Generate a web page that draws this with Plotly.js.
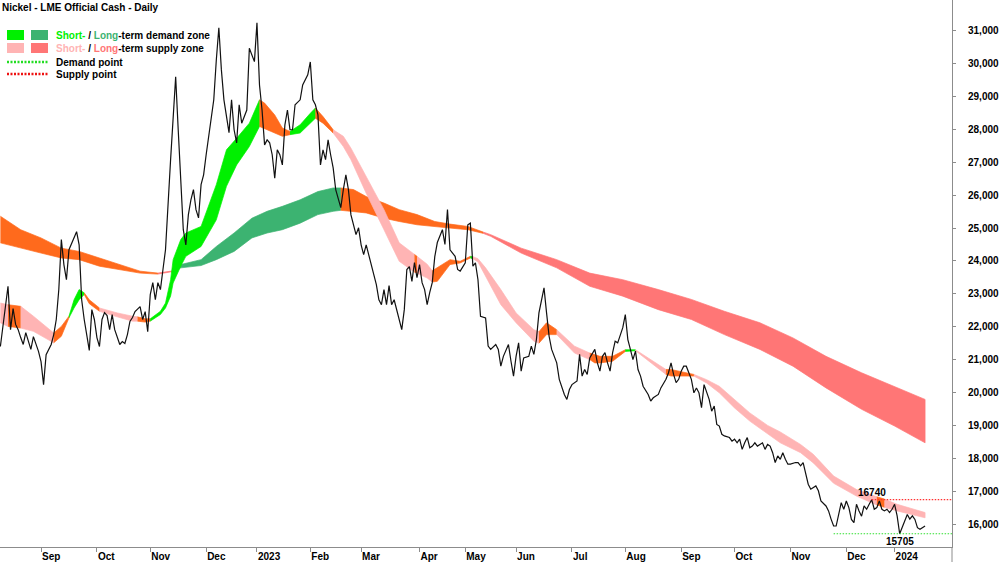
<!DOCTYPE html>
<html><head><meta charset="utf-8">
<script src="https://cdn.plot.ly/plotly-3.0.1.min.js"></script>
<style>html,body{margin:0;padding:0;background:#fff}#chart{width:1000px;height:562px}</style>
</head><body><div id="chart"></div>
<script>
// ---- x axis: trading-day index, month ticks ----
const monthTickIdx = [16,38,59,81,101,122,142,165,183,203,225,246,268,289,311,333,352];
const monthLabels = ['Sep','Oct','Nov','Dec','2023','Feb','Mar','Apr','May','Jun','Jul','Aug','Sep','Oct','Nov','Dec','2024'];
const priceTicks = [16000,17000,18000,19000,20000,21000,22000,23000,24000,25000,26000,27000,28000,29000,30000,31000];
const chartTitle = 'Nickel - LME Official Cash - Daily';

// ---- Nickel LME official cash (trading-day index, USD/t) ----
const priceIdx = [0,3,4,5,6,7,8,9,10,12,13,15,16,17,18,20,21,22,23,24,25,26,27,29,30,31,32,33,34,35,36,37,38,39,40,41,42,43,44,45,47,48,49,50,51,52,53,55,56,57,58,59,60,61,62,63,64,65,67,69,70,71,72,73,74,75,76,77,78,79,80,81,83,84,85,86,87,88,90,91,92,93,94,95,97,98,100,101,102,103,104,105,106,107,108,109,110,111,112,113,114,115,116,118,119,120,121,122,123,124,125,126,127,128,129,130,131,132,133,134,135,136,137,138,140,141,142,143,144,145,146,148,149,150,151,152,153,154,155,156,157,158,159,160,161,162,163,164,165,166,167,168,169,170,171,172,174,175,176,177,179,180,181,183,184,185,186,187,188,189,191,192,193,195,196,197,198,200,201,202,203,204,205,206,208,209,210,211,212,214,215,216,217,219,220,222,223,224,225,227,228,229,230,231,232,233,234,235,236,237,238,239,240,241,242,243,244,245,246,247,248,249,250,251,252,253,255,256,257,259,260,262,263,264,265,266,267,268,269,270,271,272,273,274,275,276,277,278,279,280,281,282,283,284,285,287,288,289,290,291,292,293,294,295,296,297,298,299,300,301,302,303,304,305,306,307,308,309,310,311,313,314,315,316,317,318,319,321,322,323,325,326,327,328,329,330,331,332,333,334,335,336,337,338,339,340,341,342,343,344,345,346,347,348,349,350,351,352,353,354,355,356,357,358,359,360,361,362,363,364];
const priceVal = [21400,23230,21910,22550,22070,21910,21670,21460,21820,21310,21700,21250,20940,20240,21150,21460,21760,22220,23130,24650,23890,23430,24340,24740,24890,24490,22820,22220,21760,21280,22520,22220,21670,21400,22220,22430,22340,21910,22370,21910,21460,21550,21490,21760,22160,22280,22460,22610,22220,22460,21850,22980,23340,22820,23340,23130,23740,24340,27080,29600,27990,26470,24950,24490,25410,25860,26170,25560,25310,26320,26620,27230,28350,28900,30110,31090,29810,28900,27900,28900,27990,27590,28750,28190,28590,30470,30060,31240,29350,28590,27530,27680,27590,27230,26520,27380,27230,26920,28140,28590,27990,27990,28750,28900,29350,29510,29660,30050,28900,28750,28440,26920,27380,27080,27680,27230,26830,26170,25860,25620,26170,26620,26170,25400,24800,25010,24490,24190,24490,24190,23890,23280,22820,22670,23130,22670,23250,22670,22820,22520,22280,21910,22520,23740,23830,23380,23950,23490,23890,23340,23130,22670,23040,23340,24130,24560,24950,24500,25560,24340,24140,23740,23690,23940,25100,25150,23840,23940,23430,22320,22270,21410,21310,21460,21310,20800,21100,21460,20950,20500,21100,21510,20650,21050,21100,21410,21160,21610,22420,23180,22420,21710,21310,20900,20400,19940,19790,20090,20240,20350,21160,20500,20700,20550,21050,21160,21310,20900,20650,21100,21210,20900,20650,21210,21560,21510,21710,21970,22370,21610,21310,21000,21260,20700,20500,20190,19940,19740,19840,19940,20140,20400,20600,20900,20550,20300,20400,20650,20800,20800,20600,20400,19990,20140,19990,19540,20240,19990,19790,19430,19590,19030,18980,18730,18680,18630,18520,18580,18470,18580,18270,18470,18630,18320,18370,18470,18370,18420,18470,18270,18420,18370,18170,17870,18070,17970,18170,17970,17820,17820,17870,17870,17770,17870,17560,17210,17060,17160,17010,16700,16550,16400,16150,15940,15940,16350,16650,16450,16700,16500,16140,16040,16600,16400,16240,16550,16450,16600,16740,16450,16500,16700,16450,16400,16450,16350,16450,16600,16250,15705,15900,16040,16290,16150,16250,16140,15890,15840,15900,15940];

// ---- short-term zone (upper / lower edge) ----
const stIdx = [0,3,8,13,21,24,27,29,31,33,35,39,46,52,54,57,59,63,65,67,68,71,73,79,85,89,93,98,102,104,108,111,114,118,122,124,127,131,135,138,144,151,157,163,164,168,170,172,177,181,185,186,188,191,197,203,210,212,215,219,226,232,234,236,241,246,250,251,256,262,264,273,278,283,289,295,302,307,315,320,328,337,345,348,353,364];
const stTop = [22720,22670,22620,22320,21810,22010,22320,22820,23130,23030,22820,22570,22420,22320,22300,22240,22240,22470,22720,23430,24040,24650,24850,25050,26320,27380,27730,28190,28900,28800,28440,28040,27940,28140,28490,28650,28390,27990,27790,27430,26570,25560,24550,24200,24140,23900,23700,23790,24040,23990,24140,24130,24070,23790,23130,22420,21910,21850,22120,21910,21410,21200,21150,21100,21100,21300,21300,21250,21000,20700,20700,20550,20390,20190,19790,19380,19000,18800,18420,18120,17460,17050,16830,16760,16600,16350];
const stBot = [22120,22010,21960,21860,21510,21710,22270,22570,22820,22980,22700,22470,22300,22170,22170,22140,22170,22370,22570,22930,23330,23840,24140,24440,25250,26270,26920,27480,28090,28040,27890,27790,27840,27890,28190,28340,28190,27890,27480,27080,26060,24950,23990,23660,23630,23480,23360,23380,23890,23940,24090,24070,23970,23530,22670,22120,21560,21500,21760,21760,21200,21000,20900,20900,20950,21250,21270,21200,20900,20550,20500,20500,20290,19990,19530,19130,18750,18470,18170,17860,17240,16850,16580,16510,16400,16190];
const stZones = [[0,3,'stSupply'],[3,8,'turn'],[8,21,'stSupply'],[21,27,'turn'],[27,33,'stDemand'],[33,39,'turn'],[39,54,'stSupply'],[54,59,'turn'],[59,102,'stDemand'],[102,114,'turn'],[114,124,'stDemand'],[124,131,'turn'],[131,163,'stSupply'],[163,164,'turn'],[164,170,'stSupply'],[170,185,'turn'],[185,186,'stDemand'],[186,212,'stSupply'],[212,219,'turn'],[219,232,'stSupply'],[232,246,'turn'],[246,250,'stDemand'],[250,262,'stSupply'],[262,273,'turn'],[273,345,'stSupply'],[345,348,'turn'],[348,364,'stSupply']];

// ---- long-term zone (upper / lower edge) ----
const ltIdx = [0,8,16,24,31,39,47,55,62,68,71,79,85,92,99,105,111,118,125,131,134,139,144,151,157,164,171,177,184,190,193,205,219,232,245,259,272,285,299,312,325,339,352,364];
const ltTop = [25360,24950,24700,24390,24290,24090,23890,23690,23630,23700,23890,24040,24440,24850,25300,25510,25660,25860,26110,26220,26220,26170,25960,25760,25560,25410,25200,25120,25050,24880,24800,24390,24040,23630,23430,23130,22830,22470,22120,21660,21100,20600,20190,19790];
const ltBot = [24550,24390,24240,24090,24040,23840,23740,23630,23600,23680,23790,23860,24040,24290,24700,24850,24950,25150,25410,25510,25540,25510,25460,25300,25200,25100,25050,25000,24950,24840,24750,24240,23790,23230,22930,22520,22220,21760,21310,20800,20140,19490,18980,18470];
const ltZones = [[0,62,'turn'],[62,68,'ltSupply'],[68,134,'ltDemand'],[134,190,'turn'],[190,364,'ltSupply']];

// ---- demand / supply points ----
const supplyPoint = {idx:343, value:16740};
const demandPoint = {idx:354, value:15705, fromIdx:328};
const xEnd = 374.6;

const zoneColors = {stDemand:'#00f000', ltDemand:'#3cb371', stSupply:'#ffb4b4', ltSupply:'#ff7676', turn:'#ff6a1c'};

function bandTraces(idx, top, bot, zones){
  return zones.map(([a,b,key]) => {
    const xs=[], up=[], lo=[];
    for(let i=0;i<idx.length;i++){ if(idx[i]>=a && idx[i]<=b){ xs.push(idx[i]); up.push(top[i]); lo.push(bot[i]); } }
    return {x: xs.concat(xs.slice().reverse()), y: up.concat(lo.slice().reverse()),
      type:'scatter', mode:'lines', fill:'toself', fillcolor: zoneColors[key],
      line:{color: zoneColors[key], width:0.7}, hoverinfo:'skip', showlegend:false};
  });
}

function boldFont(){ return {family:'Arial, "Liberation Sans", sans-serif', size:10, color:'#000', weight:'bold'}; }

const traces = [].concat(
  bandTraces(ltIdx, ltTop, ltBot, ltZones),
  bandTraces(stIdx, stTop, stBot, stZones),
  [{x: priceIdx, y: priceVal, type:'scatter', mode:'lines', line:{color:'#111', width:1.2}, hoverinfo:'skip', showlegend:false}]
);

const shapes = [
  {type:'line', xref:'x', yref:'y', x0:supplyPoint.idx, x1:xEnd, y0:supplyPoint.value, y1:supplyPoint.value, line:{color:'#ff3030', width:1.2, dash:'1.5px,1.5px'}},
  {type:'line', xref:'x', yref:'y', x0:demandPoint.fromIdx, x1:xEnd, y0:demandPoint.value, y1:demandPoint.value, line:{color:'#30e030', width:1.2, dash:'1.5px,1.5px'}},
  // legend swatches
  {type:'rect', xref:'paper', yref:'paper', xsizemode:'pixel', ysizemode:'pixel', xanchor:0, yanchor:1, x0:7, x1:24, y0:-40, y1:-30, fillcolor:zoneColors.stDemand, line:{width:0}},
  {type:'rect', xref:'paper', yref:'paper', xsizemode:'pixel', ysizemode:'pixel', xanchor:0, yanchor:1, x0:31, x1:48, y0:-40, y1:-30, fillcolor:zoneColors.ltDemand, line:{width:0}},
  {type:'rect', xref:'paper', yref:'paper', xsizemode:'pixel', ysizemode:'pixel', xanchor:0, yanchor:1, x0:7, x1:24, y0:-53, y1:-43, fillcolor:zoneColors.stSupply, line:{width:0}},
  {type:'rect', xref:'paper', yref:'paper', xsizemode:'pixel', ysizemode:'pixel', xanchor:0, yanchor:1, x0:31, x1:48, y0:-53, y1:-43, fillcolor:zoneColors.ltSupply, line:{width:0}},
  {type:'line', xref:'paper', yref:'paper', xsizemode:'pixel', ysizemode:'pixel', xanchor:0, yanchor:1, x0:7, x1:48, y0:-62, y1:-62, line:{color:'#22dd22', width:2.5, dash:'2px,1.5px'}},
  {type:'line', xref:'paper', yref:'paper', xsizemode:'pixel', ysizemode:'pixel', xanchor:0, yanchor:1, x0:7, x1:48, y0:-74, y1:-74, line:{color:'#ee1111', width:2.5, dash:'2px,1.5px'}},
  // right axis line continuing below the x axis
  {type:'line', xref:'paper', yref:'paper', ysizemode:'pixel', yanchor:0, x0:1, x1:1, y0:0, y1:-16, line:{color:'#8c8c8c', width:1}}
];

const annotations = [
  {xref:'paper', yref:'paper', x:0, y:1, xshift:54, yshift:-35, xanchor:'left', yanchor:'middle', showarrow:false, font:boldFont(),
   text:'<span style="color:'+zoneColors.stDemand+'">Short-</span> / <span style="color:'+zoneColors.ltDemand+'">Long</span>-term demand zone'},
  {xref:'paper', yref:'paper', x:0, y:1, xshift:54, yshift:-48, xanchor:'left', yanchor:'middle', showarrow:false, font:boldFont(),
   text:'<span style="color:'+zoneColors.stSupply+'">Short-</span> / <span style="color:'+zoneColors.ltSupply+'">Long</span>-term supply zone'},
  {xref:'paper', yref:'paper', x:0, y:1, xshift:54, yshift:-62, xanchor:'left', yanchor:'middle', showarrow:false, font:boldFont(), text:'Demand point'},
  {xref:'paper', yref:'paper', x:0, y:1, xshift:54, yshift:-74, xanchor:'left', yanchor:'middle', showarrow:false, font:boldFont(), text:'Supply point'},
  {xref:'x', yref:'y', x:supplyPoint.idx, y:supplyPoint.value, yanchor:'bottom', yshift:0, showarrow:false, font:boldFont(), text:String(supplyPoint.value)},
  {xref:'x', yref:'y', x:demandPoint.idx, y:demandPoint.value, yanchor:'top', yshift:0, showarrow:false, font:boldFont(), text:String(demandPoint.value)}
];

const layout = {
  width:1000, height:562, paper_bgcolor:'#fff', plot_bgcolor:'#fff',
  font:{family:'Arial, "Liberation Sans", sans-serif', size:10, color:'#000'},
  margin:{l:0, r:48, t:0, b:15},
  title:{text:chartTitle, x:0.002, xanchor:'left', xref:'container', y:1-7/562, yanchor:'middle', yref:'container', font:boldFont()},
  xaxis:{range:[-0.15, xEnd], tickvals:monthTickIdx, ticktext:monthLabels, ticks:'outside', ticklen:4, tickcolor:'#8c8c8c',
    ticklabelposition:'outside right', showline:true, linecolor:'#8c8c8c', linewidth:1, showgrid:false, zeroline:false, tickfont:boldFont(), fixedrange:true},
  yaxis:{side:'right', range:[15302, 31935], tickvals:priceTicks, tickformat:',d', ticks:'outside', ticklen:3, tickcolor:'#8c8c8c',
    ticklabelstandoff:10, showline:true, linecolor:'#8c8c8c', linewidth:1, showgrid:false, zeroline:false, tickfont:boldFont(), fixedrange:true},
  shapes:shapes, annotations:annotations, showlegend:false
};

Plotly.newPlot('chart', traces, layout, {displayModeBar:false, staticPlot:true});
</script>
</body></html>
